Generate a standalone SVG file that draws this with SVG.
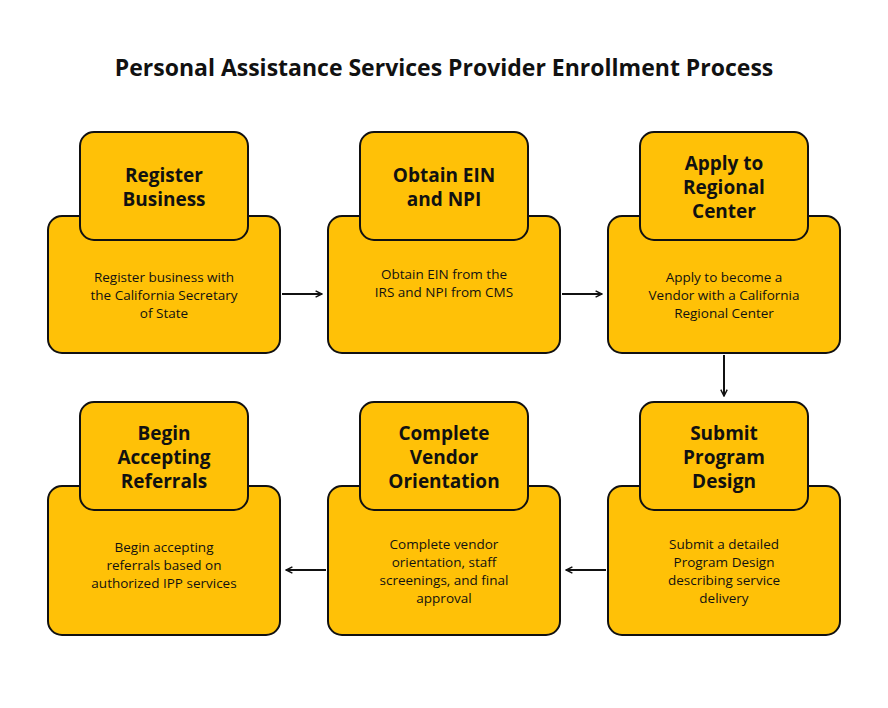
<svg xmlns="http://www.w3.org/2000/svg" width="888" height="708" viewBox="0 0 888 708">
<style>
.b{fill:#FFC107;stroke:#111;stroke-width:2}
.h{font-family:"Open Sans",sans-serif;font-weight:bold;font-size:19px;text-anchor:middle;fill:#111}
.t{font-family:"Open Sans",sans-serif;font-size:13.5px;text-anchor:middle;fill:#111}
.c{stroke:#111;stroke-width:2;fill:none;marker-end:url(#a)}
</style>
<defs><marker id="a" viewBox="0 0 10 10" refX="9" refY="5" markerWidth="8" markerHeight="8" orient="auto" markerUnits="userSpaceOnUse"><path d="M1,1 L9,5 L1,9" fill="none" stroke="#111" stroke-width="1.8"/></marker></defs>
<rect width="888" height="708" fill="#fff"/>
<text x="444" y="76" style="font-family:'Open Sans',sans-serif;font-weight:bold;font-size:23px;text-anchor:middle;fill:#111">Personal Assistance Services Provider Enrollment Process</text>
<g id="n1"><rect class="b" x="48" y="216" width="232" height="137" rx="14"/><rect class="b" x="80" y="132" width="168" height="108" rx="14"/>
<text class="h" x="164" y="182">Register</text><text class="h" x="164" y="206">Business</text>
<text class="t" x="164" y="282">Register business with</text><text class="t" x="164" y="300">the California Secretary</text><text class="t" x="164" y="318">of State</text></g>
<g id="n2"><rect class="b" x="328" y="216" width="232" height="137" rx="14"/><rect class="b" x="360" y="132" width="168" height="108" rx="14"/>
<text class="h" x="444" y="182">Obtain EIN</text><text class="h" x="444" y="206">and NPI</text>
<text class="t" x="444" y="279">Obtain EIN from the</text><text class="t" x="444" y="297">IRS and NPI from CMS</text></g>
<g id="n3"><rect class="b" x="608" y="216" width="232" height="137" rx="14"/><rect class="b" x="640" y="132" width="168" height="108" rx="14"/>
<text class="h" x="724" y="170">Apply to</text><text class="h" x="724" y="194">Regional</text><text class="h" x="724" y="218">Center</text>
<text class="t" x="724" y="282">Apply to become a</text><text class="t" x="724" y="300">Vendor with a California</text><text class="t" x="724" y="318">Regional Center</text></g>
<g id="n4"><rect class="b" x="608" y="486" width="232" height="149" rx="14"/><rect class="b" x="640" y="402" width="168" height="108" rx="14"/>
<text class="h" x="724" y="440">Submit</text><text class="h" x="724" y="464">Program</text><text class="h" x="724" y="488">Design</text>
<text class="t" x="724" y="549">Submit a detailed</text><text class="t" x="724" y="567">Program Design</text><text class="t" x="724" y="585">describing service</text><text class="t" x="724" y="603">delivery</text></g>
<g id="n5"><rect class="b" x="328" y="486" width="232" height="149" rx="14"/><rect class="b" x="360" y="402" width="168" height="108" rx="14"/>
<text class="h" x="444" y="440">Complete</text><text class="h" x="444" y="464">Vendor</text><text class="h" x="444" y="488">Orientation</text>
<text class="t" x="444" y="549">Complete vendor</text><text class="t" x="444" y="567">orientation, staff</text><text class="t" x="444" y="585">screenings, and final</text><text class="t" x="444" y="603">approval</text></g>
<g id="n6"><rect class="b" x="48" y="486" width="232" height="149" rx="14"/><rect class="b" x="80" y="402" width="168" height="108" rx="14"/>
<text class="h" x="164" y="440">Begin</text><text class="h" x="164" y="464">Accepting</text><text class="h" x="164" y="488">Referrals</text>
<text class="t" x="164" y="552">Begin accepting</text><text class="t" x="164" y="570">referrals based on</text><text class="t" x="164" y="588">authorized IPP services</text></g>
<g id="connectors">
<path class="c" d="M282,294 H322"/><path class="c" d="M562,294 H602"/><path class="c" d="M724,355 V396"/>
<path class="c" d="M606,570 H566"/><path class="c" d="M326,570 H286"/>
</g>
</svg>
